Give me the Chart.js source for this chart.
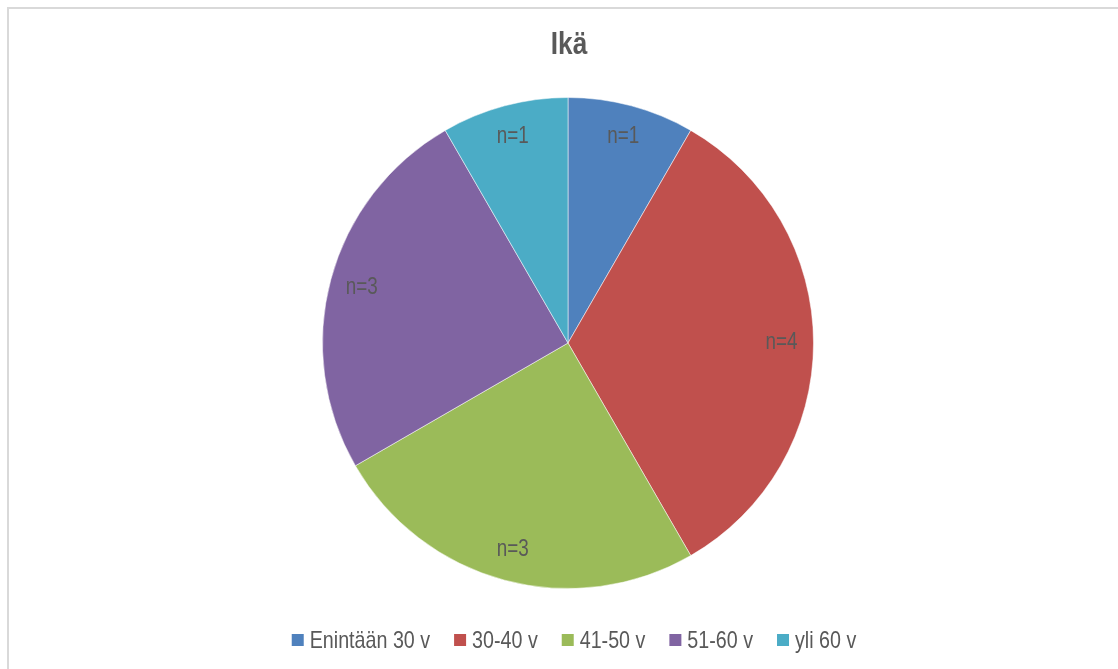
<!DOCTYPE html>
<html>
<head>
<meta charset="utf-8">
<script src="https://cdn.jsdelivr.net/npm/chart.js@4/dist/chart.umd.min.js"></script>
<style>
    html, body { margin: 0; padding: 0; background: #fff; overflow: hidden; width: 100%; height: 100%; }
    .rule { position: fixed; background: #d9d9d9; }
    #ruleTop { left: 7px; top: 7px; right: 0; height: 2px; }
    #ruleLeft { left: 7px; top: 7px; bottom: 0; width: 2px; }
    #wrap { position: fixed; left: 8px; top: 8px; width: 1110px; height: 661px; }
</style>
</head>
<body>
<div class="rule" id="ruleTop"></div>
<div class="rule" id="ruleLeft"></div>
<div id="wrap"><canvas id="ageChart"></canvas></div>
<script>
// Data
const categories = ['Enintään 30 v', '30-40 v', '41-50 v', '51-60 v', 'yli 60 v'];
const counts = [1, 4, 3, 3, 1];
const sliceColors = ['#4F81BD', '#C0504D', '#9BBB59', '#8064A2', '#4BACC6'];
const chartTitle = 'Ikä';

// Arial Narrow look: Liberation Sans squeezed horizontally
const fontFamily = "'Liberation Sans', Arial, sans-serif";
const narrow = 0.82;
const textGray = '#595959';

function narrowText(ctx, text, x, y) {
    ctx.save();
    ctx.translate(x, y);
    ctx.scale(narrow, 1);
    ctx.fillText(text, 0, 0);
    ctx.restore();
}

// Title, "n=x" labels and the bottom legend
const excelLook = {
    id: 'excelLook',
    afterDatasetsDraw(chart) {
        const ctx = chart.ctx;
        const meta = chart.getDatasetMeta(0);
        const cx = chart.chartArea.left + chart.chartArea.width / 2;
        ctx.save();
        ctx.fillStyle = textGray;
        ctx.textBaseline = 'middle';

        // title
        ctx.textAlign = 'center';
        ctx.font = 'bold 32px ' + fontFamily;
        narrowText(ctx, chartTitle, cx + 1, 37);

        // slice labels, near the rim
        ctx.font = '23px ' + fontFamily;
        meta.data.forEach((arc, i) => {
            const p = arc.getProps(['x', 'y', 'startAngle', 'endAngle', 'outerRadius'], true);
            const mid = (p.startAngle + p.endAngle) / 2;
            const r = p.outerRadius * 0.87;
            narrowText(ctx, 'n=' + counts[i], p.x + Math.cos(mid) * r, p.y + Math.sin(mid) * r);
        });

        // legend
        ctx.textAlign = 'left';
        ctx.font = '24px ' + fontFamily;
        const box = 12, boxGap = 6, itemGap = 24;
        const widths = categories.map(c => ctx.measureText(c).width * narrow);
        const total = widths.reduce((a, w) => a + w + box + boxGap, 0) + itemGap * (categories.length - 1);
        let x = cx + 6 - total / 2;
        const y = 632;
        categories.forEach((c, i) => {
            ctx.fillStyle = sliceColors[i];
            ctx.fillRect(x, y - box / 2, box, box);
            ctx.fillStyle = textGray;
            narrowText(ctx, c, x + box + boxGap, y + 1);
            x += box + boxGap + widths[i] + itemGap;
        });
        ctx.restore();
    }
};

const ageCtx = document.getElementById('ageChart').getContext('2d');
let ageChartInstance = new Chart(ageCtx, {
    type: 'pie',
    data: {
        labels: categories,
        datasets: [{
            data: counts,
            backgroundColor: sliceColors,
            borderColor: 'rgba(255,255,255,0.5)',
            borderWidth: 1
        }]
    },
    options: {
        responsive: true,
        maintainAspectRatio: false,
        animation: false,
        layout: {
            // pie centred at x 568 of the page
            padding: { top: 89, bottom: 80, left: 10, right: 0 }
        },
        plugins: {
            title: { display: false },
            legend: { display: false },
            tooltip: { enabled: false }
        }
    },
    plugins: [excelLook]
});
</script>
</body>
</html>
